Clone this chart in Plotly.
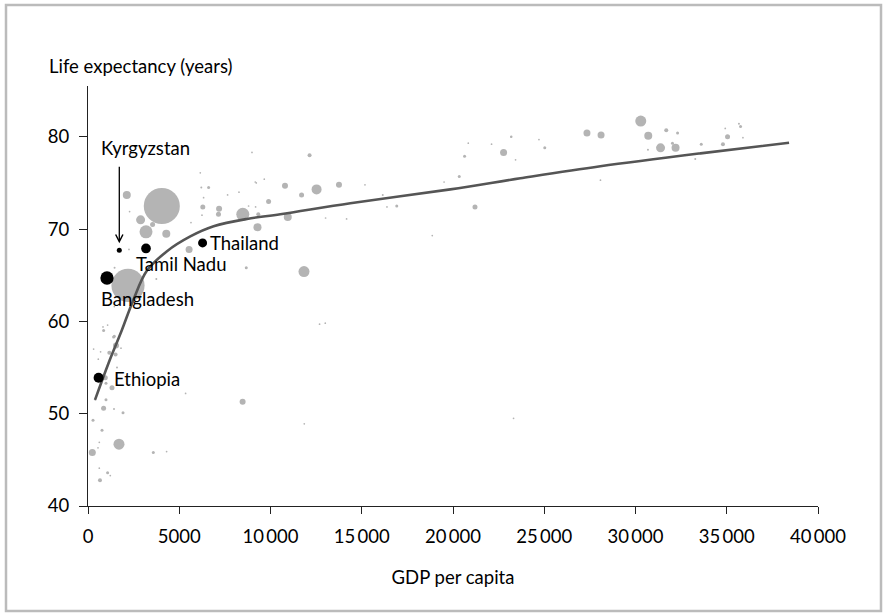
import numpy as np
import plotly.graph_objects as go

# ---------------- data ----------------
# grey bubbles: other countries (GDP per capita, life expectancy, population in millions)
gdp_gray = [4044, 2192, 2126, 2882, 3178, 3539, 4290, 6290, 7183, 7150, 8481, 9287, 9895, 5539, 8673,
            3742, 1457, 1534, 6608, 6208, 10794, 11703, 12525, 13752, 12141, 10947, 9331, 11835, 22771,
            20634, 20344, 21204, 16919, 16152, 15177, 14169, 13018, 16382, 18864, 13001, 20837, 22113,
            23176, 23428, 19511, 30288, 27340, 28113, 30699, 31373, 32195, 31685, 32304, 32025, 30682,
            35044, 34792, 35756, 35668, 33603, 33274, 35887, 34918, 23193, 25028, 24710, 28080, 236,
            1698, 8471, 3578, 1315, 855, 986, 1167, 1512, 1403, 1918, 1425, 767, 619, 548, 657, 1074,
            1222, 619, 274, 986, 564, 307, 1808, 690, 855, 4307, 5348, 400, 1589, 948, 1441, 822, 1074,
            1441, 11851, 23319, 12689, 6153, 8986, 9221, 9659, 6246, 5643, 6334, 7649, 8273, 8799, 9183,
            9166, 2279, 2246]
le_gray = [72.5, 63.9, 73.7, 71.0, 69.7, 70.5, 69.5, 72.4, 72.2, 71.6, 71.6, 70.2, 73.0, 67.8, 65.8,
           64.6, 65.8, 57.4, 74.5, 74.5, 74.7, 73.7, 74.3, 74.8, 78.0, 71.3, 71.6, 65.4, 78.3,
           77.9, 75.7, 72.4, 72.5, 73.7, 74.8, 71.1, 71.2, 72.4, 69.3, 59.8, 79.3, 79.2,
           80.0, 77.5, 75.1, 81.7, 80.4, 80.2, 80.1, 78.8, 78.8, 80.7, 80.4, 79.3, 78.6,
           80.0, 79.2, 81.1, 81.4, 79.2, 77.6, 79.9, 80.9, 80.0, 78.8, 79.7, 75.3, 45.8,
           46.7, 51.3, 45.8, 52.8, 50.6, 51.5, 56.6, 56.4, 58.3, 50.1, 50.5, 48.2, 46.9, 46.3, 42.8, 43.6,
           43.3, 44.1, 49.3, 53.3, 55.9, 57.0, 57.1, 56.7, 59.0, 45.9, 52.2, 51.5, 55.0, 53.9, 61.6, 59.4, 59.6,
           58.4, 48.9, 49.5, 59.7, 76.1, 78.3, 75.0, 75.4, 71.5, 70.7, 73.4, 73.7, 74.0, 72.5, 72.4,
           75.1, 71.9, 67.8]
pop_gray = [1300, 1100, 64, 81, 169, 25, 64, 25, 36, 25, 169, 64, 25, 49, 9,
            4, 4, 36, 9, 4, 36, 25, 100, 36, 16, 64, 16, 121, 49,
            9, 9, 25, 9, 4, 3, 3, 3, 3, 3, 3, 3, 3,
            3, 3, 3, 121, 49, 49, 64, 81, 64, 16, 9, 9, 4,
            25, 16, 9, 4, 9, 4, 3, 3, 6, 9, 3, 3, 49,
            121, 36, 9, 25, 25, 9, 16, 16, 9, 9, 4, 9, 3, 3, 16, 9,
            3, 3, 9, 9, 3, 3, 3, 3, 9, 3, 3, 3, 4, 25, 3, 3, 3,
            9, 3, 3, 3, 3, 3, 3, 3, 3, 3, 3, 3, 3, 3, 3,
            3, 3, 3]

# highlighted places
hl_names = ["Kyrgyzstan", "Tamil Nadu", "Thailand", "Bangladesh", "Ethiopia"]
hl_gdp = [1715, 3178, 6279, 1041, 581]
hl_le = [67.7, 67.9, 68.5, 64.7, 53.9]
hl_pop = [25, 94, 81, 177, 100]

# fitted trend curve
trend_gdp = [384, 1129, 1863, 2480, 3233, 4329, 5606, 6883, 8713, 10538, 14374, 19855, 23690, 28072, 33559, 38415]
trend_le = [51.5, 55.5, 59.1, 62.3, 65.5, 67.6, 69.2, 70.3, 71.1, 71.6, 72.8, 74.3, 75.5, 76.8, 78.2, 79.35]

x_tickvals = [0, 5000, 10000, 15000, 20000, 25000, 30000, 35000, 40000]
x_ticktext = ["0", "5000", "10\u2009000", "15\u2009000", "20\u2009000", "25\u2009000",
              "30\u2009000", "35\u2009000", "40\u2009000"]
y_tickvals = [40, 50, 60, 70, 80]

# ---------------- figure ----------------
FONT = "Lato, 'Open Sans', sans-serif"
FS = 18.5
W, H = 887, 616
ML, MR, MT, MB = 88, 69, 86, 110

def size_of(p):
    return np.maximum(np.sqrt(np.array(p, dtype=float)), 1.5)

fig = go.Figure()
fig.add_trace(go.Scatter(
    x=gdp_gray, y=le_gray, mode="markers",
    marker=dict(size=size_of(pop_gray), color="#b4b4b4", line=dict(width=0), opacity=1),
    hoverinfo="skip", cliponaxis=False, showlegend=False))
fig.add_trace(go.Scatter(
    x=trend_gdp, y=trend_le, mode="lines",
    line=dict(color="#555555", width=2.6, shape="spline", smoothing=1.0),
    hoverinfo="skip", showlegend=False, cliponaxis=False))
fig.add_trace(go.Scatter(
    x=hl_gdp, y=hl_le, mode="markers",
    marker=dict(size=size_of(hl_pop), color="#000000", opacity=1, line=dict(width=0)),
    text=hl_names, hoverinfo="text", showlegend=False, cliponaxis=False))

lab_font = dict(family=FONT, size=FS, color="#000000")
# label offsets in pixels (xshift, yshift)
label_offsets = {
    "Tamil Nadu": (-12, -16),
    "Thailand": (5, 0),
    "Bangladesh": (-8, -21),
    "Ethiopia": (13, -1),
}
for name, gx, gy in zip(hl_names, hl_gdp, hl_le):
    if name in label_offsets:
        dx, dy = label_offsets[name]
        fig.add_annotation(x=gx, y=gy, text=name, showarrow=False, xanchor="left", yanchor="middle",
                           xshift=dx, yshift=dy, font=lab_font)

# Kyrgyzstan: arrow + label
k = hl_names.index("Kyrgyzstan")
fig.add_annotation(x=hl_gdp[k], y=hl_le[k], text="", showarrow=True, ax=0, ay=-85,
                   arrowhead=5, arrowsize=1.1, arrowwidth=1.3, arrowcolor="#000000", standoff=7)
fig.add_annotation(x=hl_gdp[k], y=hl_le[k], text="Kyrgyzstan", showarrow=False, xanchor="left",
                   yanchor="middle", xshift=-20, yshift=102, font=lab_font)

pw, ph = W - ML - MR, H - MT - MB
def px2paper_x(px):
    return (px - ML) / pw
def px2paper_y(py):
    return (H - MB - py) / ph

# y-axis title (horizontal, top-left)
fig.add_annotation(xref="paper", yref="paper", x=px2paper_x(47), y=px2paper_y(66),
                   text="Life expectancy (years)", showarrow=False, xanchor="left", yanchor="middle",
                   font=lab_font)

# outer frame
fig.add_shape(type="rect", xref="paper", yref="paper",
              x0=px2paper_x(6), x1=px2paper_x(881), y0=px2paper_y(611), y1=px2paper_y(5),
              line=dict(color="#bbbbbb", width=2.5), fillcolor="rgba(0,0,0,0)", layer="below")

fig.update_layout(
    width=W, height=H,
    margin=dict(l=ML, r=MR, t=MT, b=MB, pad=0),
    paper_bgcolor="white", plot_bgcolor="white",
    font=dict(family=FONT, size=FS, color="#000000"),
    xaxis=dict(range=[0, 40000], tickvals=x_tickvals, ticktext=x_ticktext,
               showline=True, linecolor="#222222", linewidth=1.2, ticks="outside", ticklen=7,
               tickwidth=1.2, tickcolor="#222222", showgrid=False, zeroline=False,
               ticklabelstandoff=7,
               title=dict(text="GDP per capita", standoff=24, font=dict(family=FONT, size=FS))),
    yaxis=dict(range=[40, 85.5], tickvals=y_tickvals, showline=True, linecolor="#222222",
               linewidth=1.2, ticks="outside", ticklen=8, tickwidth=1.2, tickcolor="#222222",
               showgrid=False, zeroline=False, ticklabelstandoff=6),
)

fig.write_html("out.html")
